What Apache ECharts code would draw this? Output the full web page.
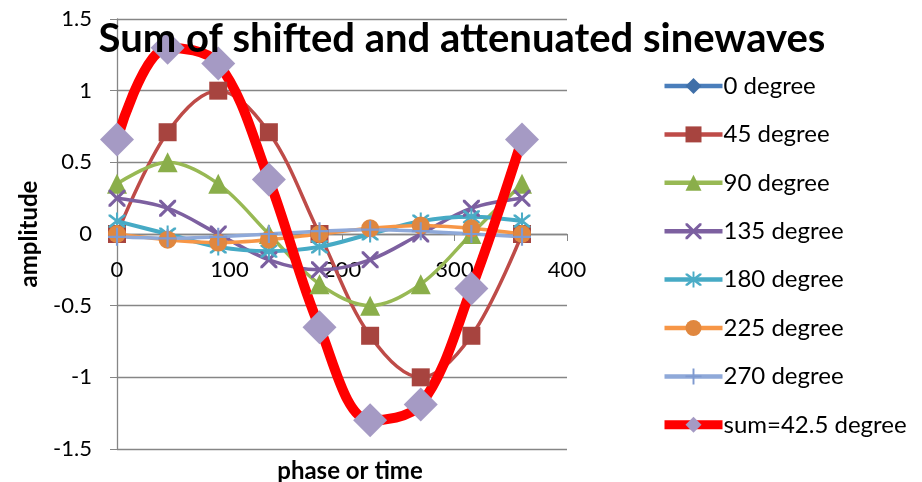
<!DOCTYPE html>
<html>
<head>
<meta charset="utf-8">
<script src="https://cdn.jsdelivr.net/npm/echarts@6/dist/echarts.min.js"></script>
<style>
html,body{margin:0;padding:0;background:#fff;}
#c{width:922px;height:482px;}
</style>
</head>
<body>
<div id="c"></div>
<script>
// phase (x) values
var phases = [0, 45, 90, 135, 180, 225, 270, 315, 360];
// series values (the 0 degree series is not visible in the plot)
var deg0   = [null, null, null, null, null, null, null, null, null];
var deg45  = [0, 0.71, 1, 0.71, 0, -0.71, -1, -0.71, 0];
var deg90  = [0.35, 0.5, 0.35, 0, -0.35, -0.5, -0.35, 0, 0.35];
var deg135 = [0.25, 0.18, 0, -0.18, -0.25, -0.18, 0, 0.18, 0.25];
var deg180 = [0.09, 0, -0.09, -0.12, -0.09, 0, 0.09, 0.12, 0.09];
var deg225 = [0, -0.04, -0.06, -0.04, 0, 0.04, 0.06, 0.04, 0];
var deg270 = [-0.02, -0.03, -0.02, 0, 0.02, 0.03, 0.02, 0, -0.02];
var sumVals = [0.66, 1.3, 1.19, 0.38, -0.65, -1.3, -1.19, -0.38, 0.66];
var seriesNames = ['0 degree', '45 degree', '90 degree', '135 degree', '180 degree', '225 degree', '270 degree', 'sum=42.5 degree'];
var yTicks = [-1.5, -1, -0.5, 0, 0.5, 1, 1.5];
var xTicks = [0, 100, 200, 300, 400];

function pairs(vals) {
  return phases.map(function (p, i) { return [p, vals[i]]; });
}

var FONT = 'Lato, "Open Sans", sans-serif';
var xShape = 'path://M0,0L1.3,0L5,3.7L8.7,0L10,0L10,1.3L6.3,5L10,8.7L10,10L8.7,10L5,6.3L1.3,10L0,10L0,8.7L3.7,5L0,1.3Z';
var starShape = 'path://M0,0L1.3,0L5,3.7L8.7,0L10,0L10,1.3L6.3,5L10,8.7L10,10L8.7,10L5,6.3L1.3,10L0,10L0,8.7L3.7,5L0,1.3Z M4.4,-1.5L5.6,-1.5L5.6,11.5L4.4,11.5Z';
var plusShape = 'path://M4.4,0L5.6,0L5.6,4.4L10,4.4L10,5.6L5.6,5.6L5.6,10L4.4,10L4.4,5.6L0,5.6L0,4.4L4.4,4.4Z';

var styles = [
  { line: '#4A7EBB', mark: '#3F6FA8', symbol: 'diamond', size: 16, width: 3.5 },
  { line: '#BE4B48', mark: '#A7443F', symbol: 'rect', size: 18, width: 3.5 },
  { line: '#98B954', mark: '#8AAE4A', symbol: 'triangle', size: 20, width: 3.5 },
  { line: '#7D60A0', mark: '#7B5FA0', symbol: xShape, size: 17, width: 3.5 },
  { line: '#46AAC5', mark: '#4BACC6', symbol: starShape, size: 17, width: 4 },
  { line: '#F79646', mark: '#E0873F', symbol: 'circle', size: 18, width: 3.5 },
  { line: '#8FA9D9', mark: '#7F9AD0', symbol: plusShape, size: 18, width: 3.5 },
  { line: '#FF0000', mark: '#A59AC4', symbol: 'diamond', size: 34, width: 10 }
];
var allVals = [deg0, deg45, deg90, deg135, deg180, deg225, deg270, sumVals];

var series = allVals.map(function (vals, i) {
  var s = styles[i];
  return {
    name: seriesNames[i],
    type: 'line',
    data: pairs(vals),
    smooth: 0.35,
    symbol: s.symbol,
    symbolSize: s.size,
    showAllSymbol: true,
    lineStyle: { color: s.line, width: s.width },
    itemStyle: { color: s.mark, borderWidth: 0 },
    emphasis: { disabled: true },
    animation: false
  };
});

var legendData = seriesNames.map(function (n, i) {
  var s = styles[i];
  return {
    name: n,
    lineStyle: { color: s.line, width: i === 7 ? 9 : 4.5 },
    itemStyle: { color: s.mark }
  };
});

var option = {
  backgroundColor: '#ffffff',
  animation: false,
  title: {
    text: 'Sum of shifted and attenuated sinewaves',
    left: 457,
    textAlign: 'center',
    top: 14,
    textStyle: { fontFamily: FONT, fontWeight: 'bold', fontSize: 40, color: '#000' }
  },
  legend: {
    orient: 'vertical',
    left: 660,
    top: 74,
    height: 400,
    padding: 0,
    itemWidth: 58,
    itemHeight: 20,
    itemGap: 24.4,
    data: legendData,
    textStyle: { fontFamily: FONT, fontSize: 24, color: '#000', padding: [0, 0, 0, -4] },
    selectedMode: false
  },
  grid: { left: 117, right: 355, top: 19, bottom: 33, outerBoundsMode: 'none', containLabel: false },
  xAxis: {
    type: 'value',
    min: xTicks[0],
    max: xTicks[xTicks.length - 1],
    interval: 100,
    name: 'phase or time',
    nameLocation: 'middle',
    nameGap: 10,
    nameTextStyle: { fontFamily: FONT, fontWeight: 'bold', fontSize: 24, color: '#000', padding: [0, 0, 0, 16] },
    axisLine: { onZero: true, lineStyle: { color: '#868686', width: 1.3 } },
    axisTick: { show: true, length: 7, lineStyle: { color: '#868686' } },
    axisLabel: { margin: -190, fontFamily: FONT, fontSize: 22, color: '#000' },
    splitLine: { show: false }
  },
  yAxis: {
    type: 'value',
    min: yTicks[0],
    max: yTicks[yTicks.length - 1],
    interval: 0.5,
    name: 'amplitude',
    nameLocation: 'middle',
    nameGap: 76,
    nameTextStyle: { fontFamily: FONT, fontWeight: 'bold', fontSize: 24, color: '#000' },
    axisLine: { show: true, lineStyle: { color: '#868686', width: 1.3 } },
    axisTick: { show: true, length: 7, lineStyle: { color: '#868686' } },
    axisLabel: { margin: 25, fontFamily: FONT, fontSize: 22, color: '#000' },
    splitLine: { show: true, lineStyle: { color: '#868686', width: 1.3 } }
  },
  series: series
};

var chart = echarts.init(document.getElementById('c'), null, { renderer: 'canvas' });
chart.setOption(option);
</script>
</body>
</html>
